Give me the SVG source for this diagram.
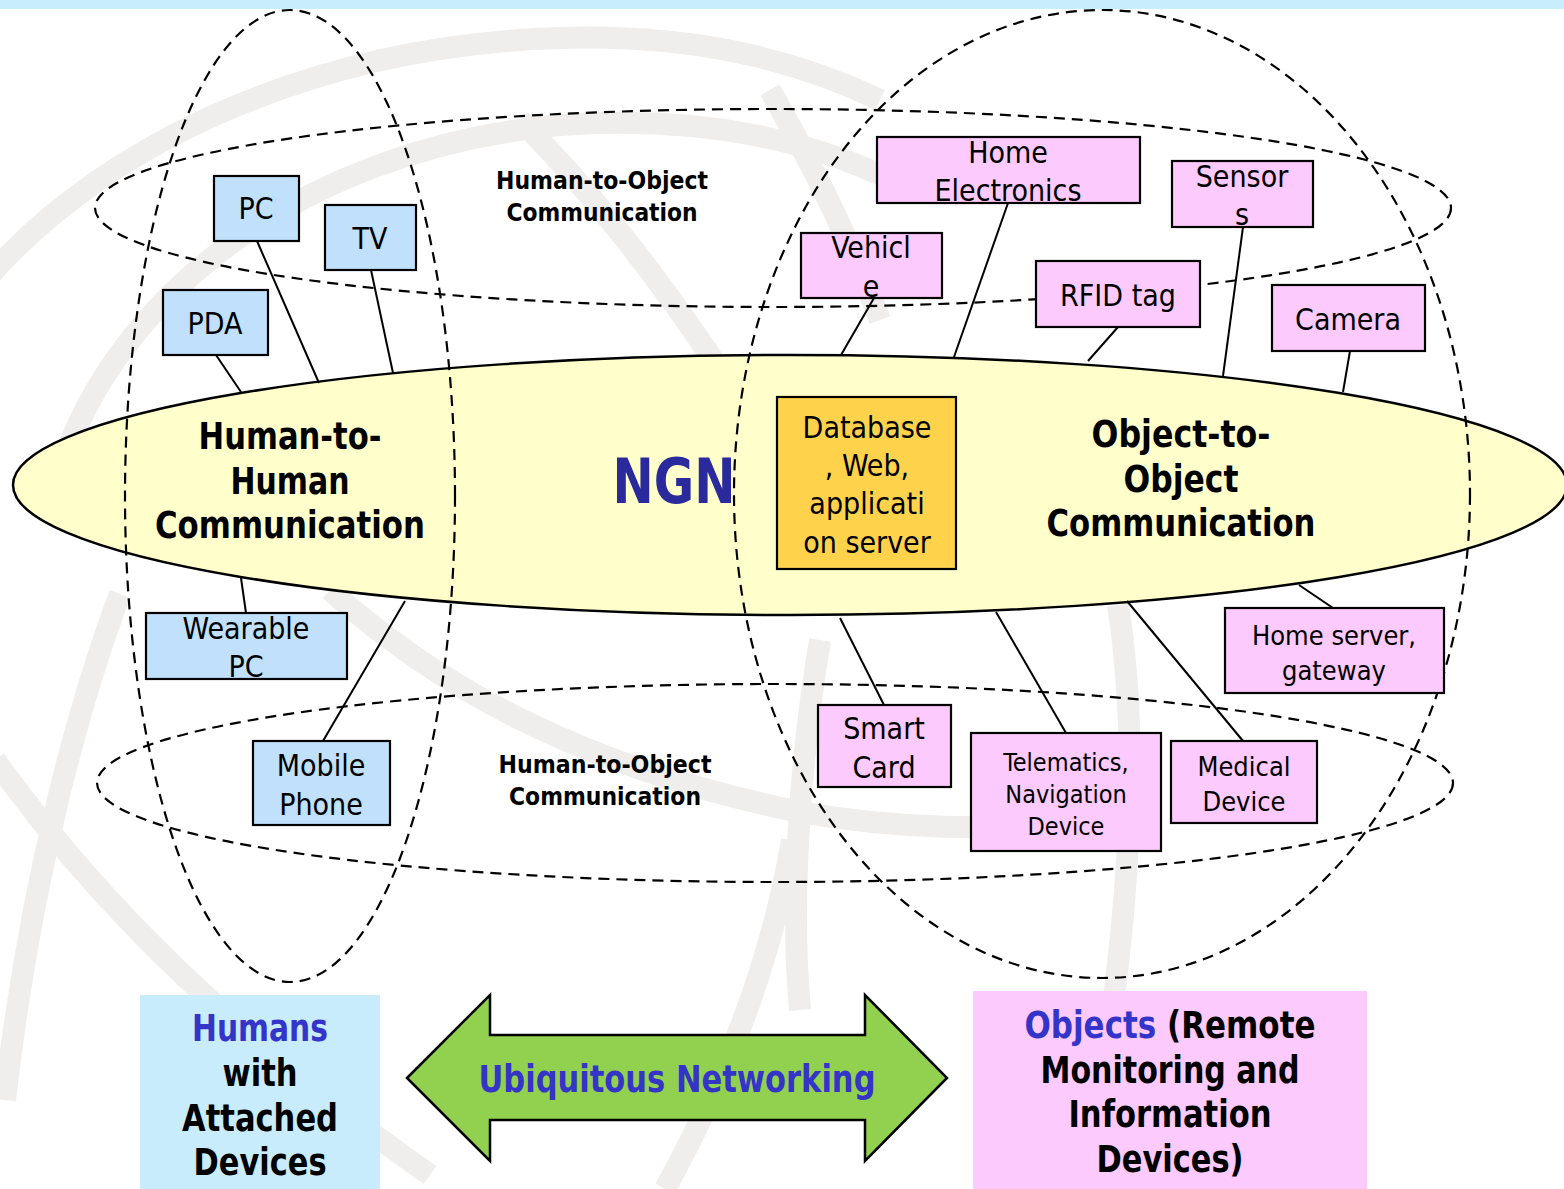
<svg xmlns="http://www.w3.org/2000/svg" width="1564" height="1189" viewBox="0 0 1564 1189">
  <style>
    .swirl { fill: none; stroke: #efeeec; stroke-width: 22; stroke-linecap: butt; }
    .dash { fill: none; stroke: #000; stroke-width: 2.2; stroke-dasharray: 11 7; }
    .link { stroke: #000; stroke-width: 2; fill: none; }
    .hum { fill: #c0e0fc; stroke: #000; stroke-width: 2.2; }
    .obj { fill: #fccafc; stroke: #000; stroke-width: 2.2; }
    .srv { fill: #ffd24c; stroke: #000; stroke-width: 2.2; }
    text { font-family: "DejaVu Sans Condensed", "DejaVu Sans", sans-serif; font-stretch: condensed; text-anchor: middle; fill: #000; }
    .box { font-size: 30px; }
    .small { font-size: 27px; }
    .big { font-size: 37px; font-weight: bold; }
    .mid { font-size: 25px; font-weight: bold; }
    .blue { fill: #3434c8; }
    .ngn { font-size: 62px; font-weight: bold; fill: #2a2a9c; }
  </style>

  <!-- page background and top strip -->
  <rect x="0" y="0" width="1564" height="1189" fill="#ffffff"/>
  <rect x="0" y="0" width="1564" height="9" fill="#c8eefc"/>

  <!-- faint globe watermark -->
  <g id="watermark">
    <path class="swirl" d="M -10 275 C 110 140 320 45 560 38 C 700 34 800 62 880 100"/>
    <path class="swirl" d="M 55 490 C 100 310 290 150 560 125 C 700 115 820 140 910 190"/>
    <path class="swirl" d="M 520 120 C 590 190 660 280 720 370"/>
    <path class="swirl" d="M 770 90 C 810 160 850 240 880 320"/>
    <path class="swirl" d="M 120 594 C 80 700 30 880 5 1100"/>
    <path class="swirl" d="M -5 760 C 60 850 180 1000 430 1175"/>
    <path class="swirl" d="M 330 590 C 430 680 570 765 800 812 C 900 830 1000 830 1060 822"/>
    <path class="swirl" d="M 792 840 C 772 960 725 1080 665 1189"/>
    <path class="swirl" d="M 1118 605 C 1142 760 1128 960 1082 1189"/>
    <path class="swirl" d="M 820 640 C 800 760 790 900 800 1010"/>
  </g>

  <!-- NGN core -->
  <g id="ngn">
    <ellipse cx="790" cy="485" rx="777" ry="130" fill="#ffffcc" stroke="#000" stroke-width="2.5"/>
    <text class="ngn" x="674" y="503" textLength="123" lengthAdjust="spacingAndGlyphs">NGN</text>
  </g>

  <!-- communication domains (dashed) -->
  <g id="domains">
    <ellipse class="dash" cx="290" cy="496" rx="165" ry="486"/>
    <ellipse class="dash" cx="1102" cy="494" rx="368" ry="484"/>
    <ellipse class="dash" cx="773" cy="208" rx="678" ry="99"/>
    <ellipse class="dash" cx="775" cy="783" rx="678" ry="99"/>
  </g>

  <!-- connectors from devices to the NGN -->
  <g id="connectors">
    <line class="link" x1="216" y1="355" x2="241" y2="392"/>
    <line class="link" x1="257" y1="241" x2="319" y2="383"/>
    <line class="link" x1="371" y1="270" x2="393" y2="373"/>
    <line class="link" x1="241" y1="578" x2="246" y2="613"/>
    <line class="link" x1="405" y1="601" x2="323" y2="741"/>
    <line class="link" x1="874" y1="298" x2="841" y2="355"/>
    <line class="link" x1="1008" y1="203" x2="954" y2="357"/>
    <line class="link" x1="1118" y1="327" x2="1088" y2="361"/>
    <line class="link" x1="1243" y1="227" x2="1223" y2="376"/>
    <line class="link" x1="1350" y1="351" x2="1343" y2="392"/>
    <line class="link" x1="1299" y1="585" x2="1333" y2="608"/>
    <line class="link" x1="840" y1="618" x2="884" y2="705"/>
    <line class="link" x1="996" y1="612" x2="1066" y2="733"/>
    <line class="link" x1="1127" y1="601" x2="1243" y2="741"/>
  </g>

  <!-- domain labels -->
  <g id="labels">
    <text class="big" x="290" y="449" textLength="183" lengthAdjust="spacingAndGlyphs">Human-to-</text>
    <text class="big" x="290" y="494" textLength="119" lengthAdjust="spacingAndGlyphs">Human</text>
    <text class="big" x="290" y="538" textLength="270" lengthAdjust="spacingAndGlyphs">Communication</text>
    <text class="big" x="1181" y="447" textLength="179" lengthAdjust="spacingAndGlyphs">Object-to-</text>
    <text class="big" x="1181" y="492" textLength="115" lengthAdjust="spacingAndGlyphs">Object</text>
    <text class="big" x="1181" y="536" textLength="269" lengthAdjust="spacingAndGlyphs">Communication</text>
    <text class="mid" x="602" y="189" textLength="212" lengthAdjust="spacingAndGlyphs">Human-to-Object</text>
    <text class="mid" x="602" y="221" textLength="191" lengthAdjust="spacingAndGlyphs">Communication</text>
    <text class="mid" x="605" y="773" textLength="213" lengthAdjust="spacingAndGlyphs">Human-to-Object</text>
    <text class="mid" x="605" y="805" textLength="192" lengthAdjust="spacingAndGlyphs">Communication</text>
  </g>

  <!-- human-side devices -->
  <g id="pc"><rect class="hum" x="214" y="176" width="85" height="65"/><text class="box" x="256" y="219">PC</text></g>
  <g id="tv"><rect class="hum" x="325" y="205" width="91" height="65"/><text class="box" x="370" y="249">TV</text></g>
  <g id="pda"><rect class="hum" x="163" y="290" width="105" height="65"/><text class="box" x="215" y="334">PDA</text></g>
  <g id="wearable-pc"><rect class="hum" x="146" y="613" width="201" height="66"/><text class="box" x="246" y="639">Wearable</text><text class="box" x="246" y="677">PC</text></g>
  <g id="mobile-phone"><rect class="hum" x="253" y="741" width="137" height="84"/><text class="box" x="321" y="776">Mobile</text><text class="box" x="321" y="815">Phone</text></g>

  <!-- object-side devices -->
  <g id="home-electronics"><rect class="obj" x="877" y="137" width="263" height="66"/><text class="box" x="1008" y="163">Home</text><text class="box" x="1008" y="201">Electronics</text></g>
  <g id="sensors"><rect class="obj" x="1172" y="161" width="141" height="66"/><text class="box" x="1242" y="187">Sensor</text><text class="box" x="1242" y="225">s</text></g>
  <g id="vehicle"><rect class="obj" x="801" y="233" width="141" height="65"/><text class="box" x="871" y="258">Vehicl</text><text class="box" x="871" y="297">e</text></g>
  <g id="rfid-tag"><rect class="obj" x="1036" y="261" width="164" height="66"/><text class="box" x="1118" y="306">RFID tag</text></g>
  <g id="camera"><rect class="obj" x="1272" y="285" width="153" height="66"/><text class="box" x="1348" y="330">Camera</text></g>
  <g id="home-server"><rect class="obj" x="1225" y="608" width="219" height="85"/><text class="small" x="1334" y="645">Home server,</text><text class="small" x="1334" y="680">gateway</text></g>
  <g id="smart-card"><rect class="obj" x="818" y="705" width="133" height="82"/><text class="box" x="884" y="739">Smart</text><text class="box" x="884" y="778">Card</text></g>
  <g id="telematics"><rect class="obj" x="971" y="733" width="190" height="118"/><text x="1066" y="771" font-size="25">Telematics,</text><text x="1066" y="803" font-size="25">Navigation</text><text x="1066" y="835" font-size="25">Device</text></g>
  <g id="medical-device"><rect class="obj" x="1171" y="741" width="146" height="82"/><text class="small" x="1244" y="776">Medical</text><text class="small" x="1244" y="811">Device</text></g>

  <!-- server inside the NGN -->
  <g id="server"><rect class="srv" x="777" y="397" width="179" height="172"/>
    <text class="box" x="867" y="438">Database</text>
    <text class="box" x="867" y="476">, Web,</text>
    <text class="box" x="867" y="514">applicati</text>
    <text class="box" x="867" y="553">on server</text>
  </g>

  <!-- bottom legend -->
  <g id="humans">
    <rect x="140" y="995" width="240" height="194" fill="#c8ecfc"/>
    <text class="big blue" x="260" y="1041" textLength="136" lengthAdjust="spacingAndGlyphs">Humans</text>
    <text class="big" x="260" y="1086" textLength="75" lengthAdjust="spacingAndGlyphs">with</text>
    <text class="big" x="260" y="1131" textLength="156" lengthAdjust="spacingAndGlyphs">Attached</text>
    <text class="big" x="260" y="1175" textLength="133" lengthAdjust="spacingAndGlyphs">Devices</text>
  </g>
  <g id="ubiquitous">
    <polygon points="407,1078 490,995 490,1035 865,1035 865,995 947,1078 865,1161 865,1120 490,1120 490,1161" fill="#92d050" stroke="#000" stroke-width="2.5" stroke-linejoin="miter"/>
    <text class="big blue" x="677" y="1092" textLength="397" lengthAdjust="spacingAndGlyphs">Ubiquitous Networking</text>
  </g>
  <g id="objects">
    <rect x="973" y="991" width="394" height="198" fill="#fccafc"/>
    <text class="big" x="1170" y="1038" textLength="291" lengthAdjust="spacingAndGlyphs"><tspan class="blue">Objects</tspan> (Remote</text>
    <text class="big" x="1170" y="1083" textLength="259" lengthAdjust="spacingAndGlyphs">Monitoring and</text>
    <text class="big" x="1170" y="1127" textLength="203" lengthAdjust="spacingAndGlyphs">Information</text>
    <text class="big" x="1170" y="1172" textLength="147" lengthAdjust="spacingAndGlyphs">Devices)</text>
  </g>
</svg>
